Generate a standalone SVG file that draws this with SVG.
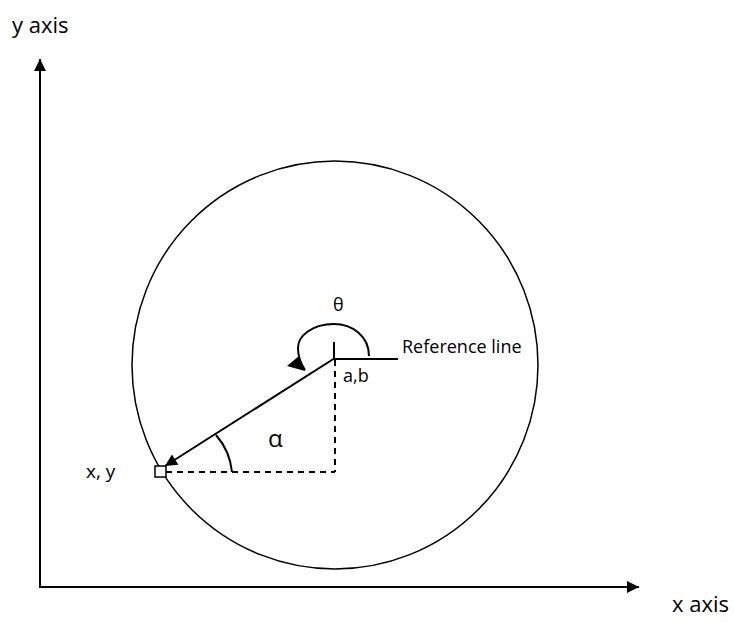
<svg xmlns="http://www.w3.org/2000/svg" width="734" height="623" viewBox="0 0 734 623">
<style>
.t{font-family:"Open Sans","Noto Sans",Calibri,sans-serif;fill:#000}
.s{stroke:#000;fill:none;stroke-width:2}
.d{stroke:#000;fill:none;stroke-width:2;stroke-dasharray:6,5}
</style>
<defs>
<marker id="ah" viewBox="0 0 10 10" refX="10" refY="5" markerWidth="18" markerHeight="12" markerUnits="userSpaceOnUse" orient="auto">
<path d="M0,0 L10,5 L0,10 Z" fill="#000"/>
</marker>
</defs>
<rect width="734" height="623" fill="#fff"/>
<g id="axes">
<line class="s" stroke-width="2.5" x1="40" y1="587" x2="40" y2="59" marker-end="url(#ah)"/>
<line class="s" stroke-width="2.5" x1="39" y1="587" x2="639" y2="587" marker-end="url(#ah)"/>
<text class="t" x="12" y="33" font-size="22">y axis</text>
<text class="t" x="672" y="612" font-size="22">x axis</text>
</g>
<g id="circle">
<ellipse cx="335" cy="365" rx="203" ry="204" fill="none" stroke="#000" stroke-width="1.5"/>
</g>
<g id="connectors">
<line class="s" x1="335" y1="358" x2="165" y2="466" marker-end="url(#ah)"/>
<line class="d" x1="335" y1="360" x2="335" y2="472"/>
<line class="d" x1="166" y1="472" x2="335" y2="472"/>
<line class="s" x1="334" y1="342" x2="334" y2="360"/>
<line class="s" x1="334" y1="359" x2="398" y2="359"/>
<path class="s" d="M232,472 A66,66 0 0 0 216,435"/>
<path class="s" d="M369,356 C369,336 352,324 334,324 C312,324 298,336 298,348 C298,358 301,364 305,370"/>
<path d="M305,371 L287,366 L299,356 Z" fill="#000"/>
</g>
<g id="point">
<rect x="155" y="466" width="11" height="11" fill="#fff" stroke="#000" stroke-width="1.5"/>
<text class="t" x="86" y="478" font-size="19">x, y</text>
</g>
<g id="labels">
<text class="t" x="333" y="311" font-size="18">θ</text>
<text class="t" x="402" y="353" font-size="18">Reference line</text>
<text class="t" x="343" y="382" font-size="18">a,b</text>
<text class="t" x="268" y="447" font-size="24">α</text>
</g>
</svg>
